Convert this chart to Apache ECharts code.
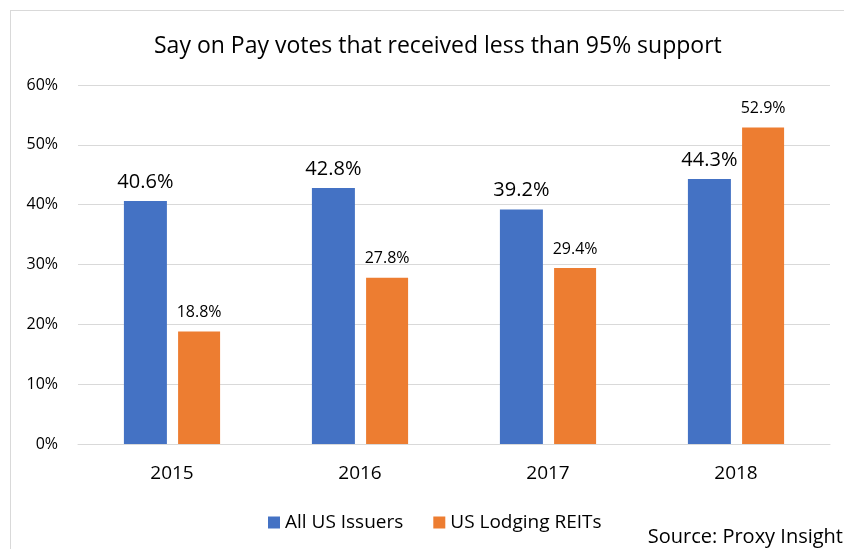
<!DOCTYPE html>
<html>
<head>
    <meta charset="utf-8">
    <title>Say on Pay votes</title>
    <script src="https://cdn.jsdelivr.net/npm/echarts@6/dist/echarts.min.js"></script>
    <style>
        html, body { margin: 0; padding: 0; background: #ffffff; }
        #frame {
            position: absolute; left: 10px; top: 10px; width: 840px; height: 545px;
            border: 1px solid #d9d9d9; box-sizing: border-box;
        }
        #chart { width: 844px; height: 549px; position: absolute; left: 0; top: 0; }
    </style>
</head>
<body>
<div id="frame"></div>
<div id="chart"></div>
<script>
    // data
    var years = ['2015', '2016', '2017', '2018'];
    var allIssuers = [40.6, 42.8, 39.2, 44.3];
    var lodgingReits = [18.8, 27.8, 29.4, 52.9];
    var seriesNames = ['All US Issuers', 'US Lodging REITs'];

    var font = '"Open Sans", "Liberation Sans", sans-serif';
    var chart = echarts.init(document.getElementById('chart'), null, { renderer: 'canvas' });

    var option = {
        animation: false,
        textStyle: { fontFamily: font },
        title: [{
            text: 'Say on Pay votes that received less than 95% support',
            left: 149,
            top: 30,
            textStyle: { fontFamily: font, fontSize: 23, fontWeight: 'normal', color: '#000' }
        }, {
            text: 'Source: Proxy Insight',
            right: -4,
            top: 522,
            textStyle: { fontFamily: font, fontSize: 20, fontWeight: 'normal', color: '#000' }
        }],
        legend: {
            data: seriesNames,
            left: 263,
            top: 508,
            itemWidth: 12,
            itemHeight: 12,
            itemGap: 30,
            icon: 'rect',
            textStyle: { fontFamily: font, fontSize: 19, color: '#000' }
        },
        grid: { left: 78, right: 14, top: 85, bottom: 105, containLabel: false },
        xAxis: {
            type: 'category',
            data: years,
            axisLine: { lineStyle: { color: '#d9d9d9', width: 1 } },
            axisTick: { show: false },
            axisLabel: { fontFamily: font, fontSize: 19, color: '#000', margin: 20 }
        },
        yAxis: {
            type: 'value',
            min: 0, max: 60, interval: 10,
            axisLine: { show: false },
            axisTick: { show: false },
            axisLabel: { formatter: '{value}%', fontFamily: font, fontSize: 16, color: '#000', margin: 20 },
            splitLine: { lineStyle: { color: '#d9d9d9', width: 1 } }
        },
        series: [{
            name: seriesNames[0],
            type: 'bar',
            data: allIssuers,
            barWidth: 43,
            barGap: '26%',
            itemStyle: { color: '#4472C4' },
            label: {
                show: true, position: 'top', distance: 9,
                formatter: function (p) { return p.value.toFixed(1) + '%'; },
                fontFamily: font, fontSize: 20, color: '#000'
            }
        }, {
            name: seriesNames[1],
            type: 'bar',
            data: lodgingReits,
            barWidth: 42,
            itemStyle: { color: '#ED7D31' },
            label: {
                show: true, position: 'top', distance: 11,
                formatter: function (p) { return p.value.toFixed(1) + '%'; },
                fontFamily: font, fontSize: 16, color: '#000'
            }
        }]
    };
    chart.setOption(option);
</script>
</body>
</html>
